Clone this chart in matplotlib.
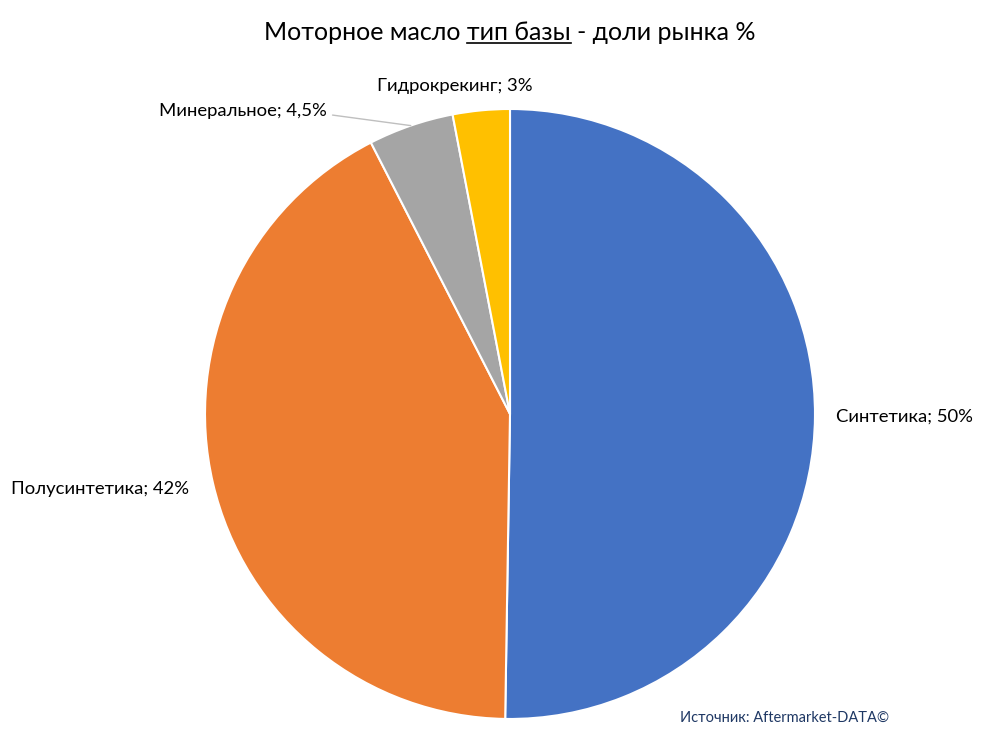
import numpy as np
import matplotlib
matplotlib.use("Agg")
import matplotlib.pyplot as plt

plt.rcParams['font.family'] = ['Lato', 'DejaVu Sans']

# данные
labels = ['Синтетика', 'Полусинтетика', 'Минеральное', 'Гидрокрекинг']
shares = [50, 42, 4.5, 3]
share_txt = ['50%', '42%', '4,5%', '3%']
colors = ['#4472C4', '#ED7D31', '#A5A5A5', '#FFC000']

fig = plt.figure(figsize=(10, 7.32), dpi=100)
ax = fig.add_axes([0.205, 0.0178, 0.61, 0.8333])

wedges, _ = ax.pie(shares, colors=colors, startangle=90, counterclock=False,
                   wedgeprops=dict(edgecolor='white', linewidth=1.5))
ax.set_xlim(-1, 1)
ax.set_ylim(-1, 1)
ax.set_aspect('equal')

fs = 13.3
# подписи секторов
lab_pos = {0: (1.07, 'left', 0.0), 1: (1.085, 'right', 0.006),
           3: (1.08, 'center', 0.0)}
for i, w in enumerate(wedges):
    ang = np.deg2rad((w.theta1 + w.theta2) / 2)
    txt = labels[i] + '; ' + share_txt[i]
    if i == 2:
        x0, y0 = np.cos(ang), np.sin(ang)
        ax.annotate(txt, xy=(x0, y0), xytext=(-0.6, 0.993),
                    ha='right', va='center', fontsize=fs,
                    arrowprops=dict(arrowstyle='-', color='#BFBFBF', lw=1.0,
                                    shrinkA=2, shrinkB=0, relpos=(1.0, 0.3)),
                    annotation_clip=False)
        continue
    r, ha, dx = lab_pos[i]
    x, y = np.cos(ang) * r, np.sin(ang) * r
    if i == 3:
        x = -0.18
    ax.text(x + dx, y, txt, ha=ha, va='center', fontsize=fs, clip_on=False)

# заголовок с подчёркнутым фрагментом
title = 'Моторное масло тип базы - доли рынка %'
t = fig.text(0.51, 0.955, title, ha='center', va='center', fontsize=18)
fig.canvas.draw()
rend = fig.canvas.get_renderer()
bb = t.get_window_extent(rend)
tmp = fig.text(0, 0, 'Моторное масло тип базы', fontsize=18)
w1 = tmp.get_window_extent(rend).width
tmp.set_text('тип базы')
w2 = tmp.get_window_extent(rend).width
tmp.remove()
x_end = bb.x0 + w1
x_start = x_end - w2
y_line = bb.y0 + 1
fig.add_artist(plt.Line2D([x_start / 1000, x_end / 1000],
                          [y_line / 732, y_line / 732], color='black', lw=1.2))

fig.text(0.68, 0.019, 'Источник: Aftermarket-DATA©', color='#1F3864',
         fontsize=10.5, ha='left', va='center')

fig.savefig('out.png', dpi=100, facecolor='white')
